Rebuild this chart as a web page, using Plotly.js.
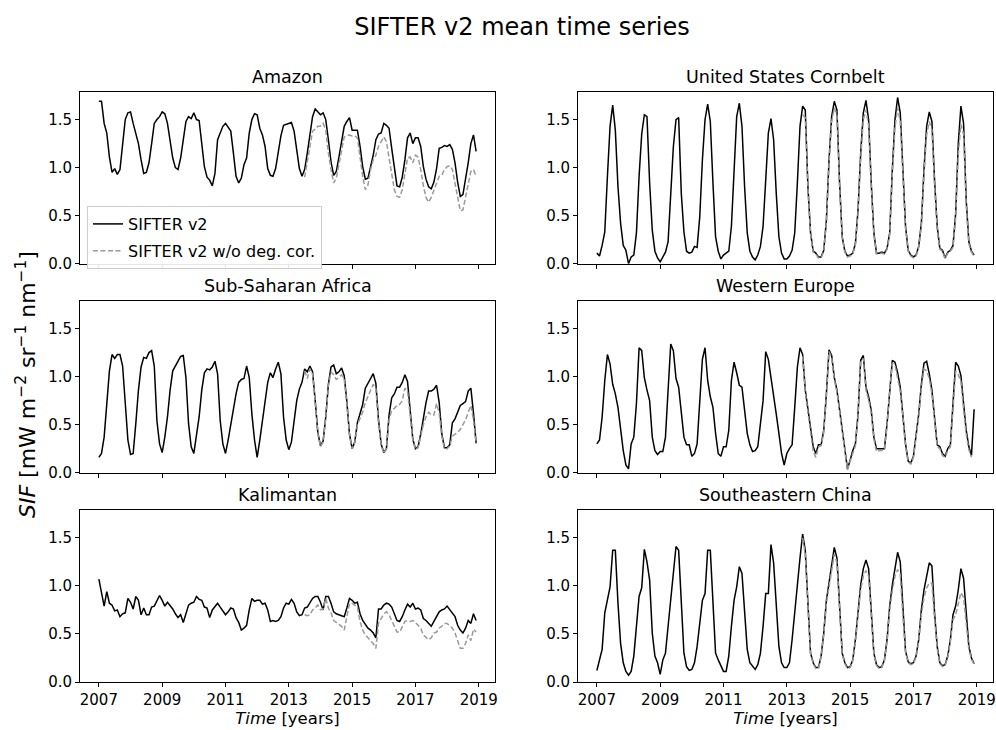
<!DOCTYPE html>
<html><head><meta charset="utf-8">
<script src="https://cdn.plot.ly/plotly-3.0.1.min.js"></script>
<style>html,body{margin:0;padding:0;background:#fff}</style>
</head><body><div id="chart" style="width:996px;height:730px"></div>
<script>
const startYear = 2007;
const nMonths = 144;
const corrStart = 78; // first month of the "w/o deg. cor." series (mid-2013)
const months = Array.from({length: nMonths}, (_, i) => startYear + i / 12);
const yearTicks = [2007, 2009, 2011, 2013, 2015, 2017, 2019];
const sifTicks = [0, 0.5, 1.0, 1.5];
const sifTickText = ['0.0', '0.5', '1.0', '1.5'];
const regions = ['Amazon', 'United States Cornbelt', 'Sub-Saharan Africa', 'Western Europe', 'Kalimantan', 'Southeastern China'];
const seriesNames = ['SIFTER v2', 'SIFTER v2 w/o deg. cor.'];

const amazon = [
1.69,1.69,1.46,1.36,1.11,0.95,0.99,0.93,0.98,1.25,1.50,1.57,
1.58,1.46,1.34,1.25,1.08,0.94,0.95,1.05,1.25,1.46,1.50,1.53,
1.58,1.56,1.46,1.25,1.10,1.00,0.98,1.10,1.29,1.48,1.53,1.51,
1.57,1.50,1.49,1.25,1.01,0.90,0.87,0.81,0.94,1.29,1.36,1.43,
1.46,1.42,1.38,1.15,0.91,0.84,0.89,1.03,1.10,1.36,1.50,1.56,
1.55,1.41,1.34,1.22,0.99,0.92,0.91,0.99,1.15,1.33,1.44,1.45,
1.46,1.47,1.38,1.18,0.99,0.91,0.98,1.15,1.36,1.53,1.61,1.58,
1.55,1.57,1.50,1.29,1.06,0.92,0.96,1.11,1.29,1.43,1.48,1.52,
1.39,1.39,1.39,1.22,1.01,0.88,0.89,1.01,1.13,1.29,1.35,1.36,
1.46,1.44,1.41,1.20,0.98,0.81,0.80,0.90,1.08,1.31,1.36,1.25,
1.31,1.31,1.22,1.01,0.88,0.80,0.78,0.85,0.99,1.20,1.21,1.23,
1.22,1.24,1.19,1.05,0.85,0.70,0.72,0.87,1.05,1.25,1.34,1.17];
const amazonNoCor = [
0.90,1.06,1.25,1.38,1.40,1.43,
1.43,1.46,1.39,1.15,0.98,0.84,0.89,1.03,1.20,1.32,1.33,1.34,
1.33,1.33,1.31,1.11,0.91,0.77,0.82,0.98,1.08,1.13,1.22,1.27,
1.32,1.27,1.11,0.94,0.77,0.70,0.69,0.77,0.92,1.10,1.11,1.05,
1.13,1.11,0.98,0.81,0.69,0.64,0.69,0.76,0.83,0.91,0.92,0.98,
1.01,1.02,0.98,0.83,0.68,0.55,0.56,0.70,0.84,0.96,0.98,0.91];

const cornbelt = [
0.11,0.08,0.19,0.33,0.91,1.43,1.65,1.39,0.80,0.42,0.19,0.14,
0.00,0.07,0.09,0.32,0.91,1.35,1.55,1.53,0.84,0.35,0.13,0.06,
0.02,0.07,0.12,0.23,0.80,1.22,1.50,1.52,0.73,0.33,0.13,0.11,
0.12,0.18,0.17,0.49,1.08,1.50,1.66,1.48,0.84,0.28,0.13,0.05,
0.09,0.11,0.13,0.39,1.01,1.53,1.67,1.43,0.80,0.32,0.13,0.07,
0.04,0.09,0.18,0.39,0.87,1.36,1.51,1.29,0.73,0.28,0.11,0.05,
0.05,0.08,0.14,0.32,0.84,1.43,1.64,1.60,0.80,0.32,0.13,0.11,
0.07,0.07,0.14,0.45,1.08,1.53,1.69,1.60,0.84,0.28,0.13,0.08,
0.09,0.11,0.21,0.56,1.15,1.57,1.70,1.50,0.84,0.32,0.11,0.11,
0.12,0.11,0.16,0.32,0.98,1.50,1.73,1.57,0.98,0.39,0.14,0.09,
0.07,0.09,0.18,0.42,0.98,1.43,1.58,1.48,0.87,0.39,0.16,0.14,
0.06,0.12,0.14,0.19,0.52,1.25,1.64,1.46,0.66,0.23,0.13,0.09];
const cornbeltNoCor = [
1.55,1.52,0.80,0.31,0.12,0.10,
0.06,0.06,0.13,0.43,1.04,1.48,1.62,1.55,0.81,0.27,0.12,0.07,
0.08,0.10,0.20,0.53,1.10,1.50,1.60,1.44,0.80,0.30,0.10,0.10,
0.11,0.10,0.15,0.30,0.93,1.42,1.62,1.48,0.93,0.37,0.13,0.08,
0.06,0.08,0.17,0.39,0.92,1.34,1.48,1.39,0.82,0.36,0.15,0.13,
0.05,0.11,0.13,0.17,0.48,1.14,1.45,1.35,0.61,0.21,0.12,0.08];

const subSaharan = [
0.16,0.20,0.37,0.68,1.06,1.23,1.19,1.23,1.23,1.11,0.72,0.34,
0.19,0.20,0.51,0.86,1.10,1.20,1.19,1.25,1.27,1.11,0.54,0.30,
0.21,0.37,0.58,0.86,1.06,1.11,1.17,1.21,1.22,0.99,0.51,0.27,
0.20,0.41,0.58,0.86,1.04,1.08,1.07,1.10,1.16,1.03,0.54,0.30,
0.20,0.34,0.51,0.68,0.82,0.94,0.97,0.98,1.11,0.99,0.61,0.34,
0.16,0.34,0.54,0.75,0.94,1.04,0.99,1.08,1.15,1.03,0.58,0.34,
0.24,0.32,0.55,0.75,0.87,0.94,1.08,1.05,1.11,1.05,0.75,0.42,
0.28,0.33,0.58,0.92,1.10,1.12,1.03,1.05,1.09,1.01,0.74,0.40,
0.25,0.32,0.52,0.62,0.71,0.88,0.93,0.98,1.03,0.93,0.55,0.30,
0.21,0.25,0.60,0.78,0.82,0.89,0.89,0.94,1.02,0.95,0.66,0.35,
0.25,0.27,0.40,0.57,0.73,0.85,0.85,0.87,0.91,0.73,0.40,0.26,
0.26,0.29,0.52,0.56,0.63,0.70,0.72,0.74,0.85,0.88,0.62,0.31];
const subSaharanNoCor = [
1.06,0.98,1.08,1.03,0.74,0.41,
0.27,0.32,0.57,0.90,1.05,1.02,0.97,0.99,1.02,0.97,0.72,0.39,
0.25,0.31,0.50,0.57,0.63,0.73,0.80,0.87,0.92,0.88,0.52,0.29,
0.20,0.25,0.55,0.65,0.67,0.70,0.71,0.75,0.88,0.85,0.62,0.34,
0.24,0.26,0.38,0.50,0.58,0.63,0.60,0.60,0.72,0.62,0.38,0.25,
0.25,0.28,0.38,0.40,0.42,0.45,0.50,0.55,0.63,0.70,0.55,0.30];

const westernEurope = [
0.30,0.34,0.58,0.96,1.23,1.13,0.92,0.82,0.68,0.44,0.23,0.08,
0.04,0.30,0.37,0.72,1.30,1.27,0.99,0.86,0.75,0.37,0.23,0.19,
0.22,0.22,0.37,0.86,1.34,1.27,0.98,0.89,0.61,0.37,0.29,0.29,
0.17,0.20,0.30,0.72,1.18,1.30,0.96,0.79,0.68,0.41,0.20,0.17,
0.27,0.27,0.44,0.96,1.15,1.04,0.91,0.89,0.68,0.41,0.29,0.22,
0.23,0.27,0.51,0.75,1.26,1.18,0.99,0.82,0.61,0.41,0.20,0.08,
0.20,0.25,0.29,0.68,1.10,1.30,1.23,0.86,0.65,0.44,0.27,0.20,
0.29,0.29,0.44,0.82,1.28,1.22,0.99,0.86,0.65,0.41,0.20,0.04,
0.13,0.23,0.30,0.61,1.17,1.22,0.89,0.79,0.65,0.37,0.25,0.25,
0.25,0.25,0.51,0.89,1.17,1.15,1.04,0.89,0.61,0.30,0.12,0.10,
0.17,0.37,0.61,0.92,1.14,1.16,1.03,0.86,0.58,0.29,0.27,0.20,
0.17,0.25,0.29,0.68,1.15,1.11,1.01,0.72,0.44,0.27,0.18,0.66];
const westernEuropeNoCor = [
1.21,0.84,0.63,0.42,0.22,0.16,
0.27,0.28,0.42,0.80,1.26,1.20,0.97,0.84,0.63,0.39,0.18,0.03,
0.12,0.21,0.28,0.59,1.15,1.19,0.86,0.76,0.62,0.35,0.22,0.23,
0.23,0.24,0.49,0.86,1.14,1.12,1.00,0.85,0.58,0.28,0.11,0.09,
0.16,0.35,0.58,0.88,1.08,1.06,0.98,0.82,0.55,0.27,0.25,0.18,
0.16,0.23,0.27,0.63,1.06,1.02,0.95,0.66,0.40,0.24,0.16];

const kalimantan = [
1.07,0.93,0.79,0.94,0.82,0.80,0.74,0.75,0.68,0.71,0.72,0.87,
0.83,0.76,0.89,0.85,0.70,0.77,0.70,0.70,0.78,0.79,0.85,0.90,
0.85,0.79,0.83,0.80,0.76,0.71,0.67,0.70,0.62,0.71,0.80,0.82,
0.83,0.89,0.86,0.85,0.78,0.77,0.67,0.75,0.78,0.82,0.78,0.74,
0.70,0.73,0.77,0.76,0.67,0.62,0.54,0.56,0.59,0.75,0.87,0.84,
0.85,0.85,0.81,0.82,0.75,0.63,0.64,0.63,0.64,0.68,0.77,0.82,
0.81,0.86,0.82,0.73,0.69,0.70,0.77,0.78,0.82,0.87,0.89,0.89,
0.83,0.75,0.89,0.89,0.82,0.73,0.71,0.70,0.69,0.68,0.77,0.87,
0.85,0.82,0.83,0.71,0.64,0.60,0.56,0.54,0.51,0.46,0.76,0.76,
0.80,0.82,0.81,0.78,0.71,0.64,0.63,0.68,0.75,0.81,0.78,0.82,
0.76,0.77,0.75,0.66,0.64,0.61,0.58,0.63,0.68,0.73,0.75,0.76,
0.79,0.75,0.71,0.68,0.59,0.54,0.51,0.56,0.64,0.61,0.71,0.64];
const kalimantanNoCor = [
0.70,0.69,0.70,0.75,0.77,0.80,
0.75,0.76,0.87,0.77,0.72,0.64,0.62,0.60,0.58,0.54,0.68,0.82,
0.82,0.80,0.78,0.63,0.54,0.49,0.46,0.44,0.40,0.35,0.61,0.66,
0.71,0.73,0.70,0.64,0.58,0.52,0.52,0.58,0.63,0.64,0.63,0.64,
0.62,0.59,0.56,0.49,0.46,0.44,0.46,0.51,0.52,0.56,0.58,0.61,
0.61,0.58,0.56,0.51,0.42,0.35,0.35,0.40,0.49,0.43,0.55,0.52];

const seChina = [
0.12,0.23,0.34,0.72,0.85,0.99,1.37,1.37,0.82,0.40,0.20,0.11,
0.07,0.11,0.27,0.58,0.89,0.98,1.38,1.25,1.06,0.51,0.27,0.20,
0.08,0.23,0.30,0.58,0.85,1.10,1.41,1.37,0.75,0.30,0.16,0.12,
0.13,0.20,0.37,0.61,0.85,0.92,1.37,1.37,0.75,0.30,0.23,0.16,
0.11,0.11,0.27,0.58,0.85,0.99,1.20,1.13,0.75,0.34,0.20,0.16,
0.13,0.18,0.30,0.58,0.92,0.92,1.43,1.24,0.75,0.37,0.20,0.15,
0.15,0.20,0.44,0.75,1.06,1.29,1.54,1.37,0.82,0.30,0.20,0.15,
0.15,0.27,0.51,0.85,1.03,1.20,1.40,1.29,0.75,0.30,0.20,0.15,
0.16,0.23,0.44,0.75,1.01,1.18,1.27,1.18,0.68,0.30,0.18,0.15,
0.16,0.23,0.44,0.79,1.01,1.20,1.35,1.25,0.72,0.32,0.21,0.19,
0.20,0.27,0.44,0.75,0.96,1.10,1.24,1.21,0.72,0.37,0.20,0.17,
0.18,0.27,0.44,0.70,0.79,0.96,1.18,1.08,0.72,0.37,0.25,0.19];
const seChinaNoCor = [
1.50,1.33,0.80,0.29,0.19,0.14,
0.14,0.26,0.49,0.82,0.99,1.15,1.33,1.24,0.72,0.29,0.19,0.14,
0.15,0.22,0.42,0.71,0.96,1.10,1.16,1.10,0.65,0.29,0.17,0.14,
0.15,0.22,0.42,0.75,0.95,1.10,1.17,1.12,0.68,0.31,0.20,0.18,
0.19,0.26,0.42,0.70,0.88,0.98,1.03,1.03,0.66,0.35,0.19,0.16,
0.17,0.26,0.42,0.65,0.70,0.82,0.93,0.88,0.62,0.34,0.24,0.18];

const withCor = [amazon, cornbelt, subSaharan, westernEurope, kalimantan, seChina];
const withoutCor = [amazonNoCor, cornbeltNoCor, subSaharanNoCor, westernEuropeNoCor, kalimantanNoCor, seChinaNoCor];

// ---- layout geometry (pixels) ----
const W = 996, H = 730;
const colPx = [[80, 495], [578, 993]];
const rowPx = [[91.7, 263.7], [300.7, 472.7], [510, 682]];
const px2x = p => p / W;
const px2y = p => 1 - p / H;

const traces = [];
const layout = {
  width: W, height: H,
  margin: {l: 0, r: 0, t: 0, b: 0},
  paper_bgcolor: '#ffffff', plot_bgcolor: '#ffffff',
  font: {family: 'DejaVu Sans', size: 15, color: '#000'},
  title: {text: 'SIFTER v2 mean time series', x: 522 / W, xanchor: 'center', y: 1 - 27 / H, yanchor: 'middle', font: {size: 24, color: '#000'}},
  showlegend: true,
  legend: {x: px2x(87), y: px2y(206), xanchor: 'left', yanchor: 'top', bgcolor: 'rgba(255,255,255,0.9)',
           bordercolor: '#cccccc', borderwidth: 1, font: {size: 16}, traceorder: 'grouped', tracegroupgap: 3},
  annotations: []
};

for (let k = 0; k < 6; k++) {
  const row = Math.floor(k / 2), col = k % 2;
  const n = k + 1;
  const xa = 'x' + (n === 1 ? '' : n), ya = 'y' + (n === 1 ? '' : n);
  traces.push({
    x: months, y: withCor[k], xaxis: xa, yaxis: ya, type: 'scatter', mode: 'lines',
    line: {color: '#000000', width: 1.5}, name: seriesNames[0], legendgroup: 'a', showlegend: k === 0
  });
  const nc = withoutCor[k];
  traces.push({
    x: months.slice(corrStart, corrStart + nc.length), y: nc, xaxis: xa, yaxis: ya, type: 'scatter', mode: 'lines',
    line: {color: '#999999', width: 1.5, dash: '5px,2.5px'}, name: seriesNames[1], legendgroup: 'b', showlegend: k === 0
  });
  const xdom = [px2x(colPx[col][0]), px2x(colPx[col][1])];
  const ydom = [px2y(rowPx[row][1]), px2y(rowPx[row][0])];
  const xaxis = {
    domain: xdom, anchor: ya, range: [2006.404, 2019.513],
    tickmode: 'array', tickvals: yearTicks, ticktext: yearTicks.map(String),
    showticklabels: row === 2, ticks: 'outside', ticklen: 4, tickwidth: 1, tickcolor: '#000',
    showline: true, mirror: true, linecolor: '#000', linewidth: 1,
    showgrid: false, zeroline: false, tickfont: {size: 15}
  };
  if (row === 2) xaxis.title = {text: '<i>Time</i> [years]', font: {size: 16.5}, standoff: 2};
  layout['xaxis' + (n === 1 ? '' : n)] = xaxis;
  layout['yaxis' + (n === 1 ? '' : n)] = {
    domain: ydom, anchor: xa, range: [0, 1.79],
    tickmode: 'array', tickvals: sifTicks, ticktext: sifTickText,
    ticks: 'outside', ticklen: 4, tickwidth: 1, tickcolor: '#000',
    showline: true, mirror: true, linecolor: '#000', linewidth: 1,
    showgrid: false, zeroline: false, tickfont: {size: 15}
  };
  layout.annotations.push({
    text: regions[k], xref: 'paper', yref: 'paper', showarrow: false,
    x: (xdom[0] + xdom[1]) / 2, y: ydom[1], xanchor: 'center', yanchor: 'bottom', yshift: 3,
    font: {size: 17.5, color: '#000'}
  });
}

layout.annotations.push({
  text: '<i>SIF</i> [mW m<sup>−2</sup> sr<sup>−1</sup> nm<sup>−1</sup>]',
  xref: 'paper', yref: 'paper', showarrow: false, textangle: -90,
  x: px2x(26), y: px2y(385), xanchor: 'center', yanchor: 'middle',
  font: {size: 22, color: '#000'}
});

Plotly.newPlot('chart', traces, layout, {displayModeBar: false, staticPlot: true});
</script>
</body></html>
